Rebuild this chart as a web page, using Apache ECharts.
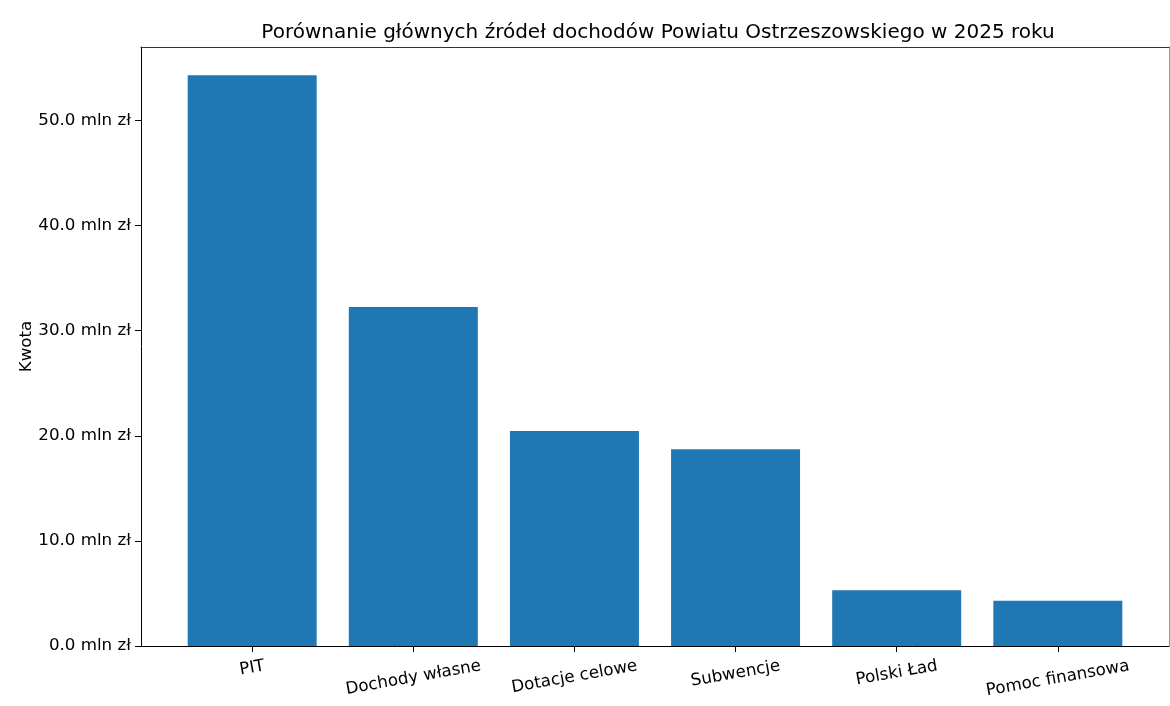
<!DOCTYPE html>
<html lang="pl">
<head>
    <meta charset="UTF-8">
    <title>Dochody Powiatu Ostrzeszowskiego 2025</title>
    <style>
      html, body { margin: 0; padding: 0; background: #fff; }
    </style>
</head>
<body>
    <div id="chart" style="width:1170px; height:706px;"></div>

    <script src="https://cdn.jsdelivr.net/npm/echarts@6/dist/echarts.min.js"></script>
    <script type="text/javascript">
      // dane (mln zł)
      var categories = ['PIT', 'Dochody własne', 'Dotacje celowe', 'Subwencje', 'Polski Ład', 'Pomoc finansowa'];
      var values = [54.30, 32.25, 20.46, 18.72, 5.30, 4.31];
      var yTicks = [0, 10, 20, 30, 40, 50];

      var FONT = 'DejaVu Sans';
      var FS = 16.7;
      var ROT = 10;

      // matplotlib centruje obrocone etykiety - liczymy przesuniecie na podstawie szerokosci tekstu
      var ctx = document.createElement('canvas').getContext('2d');
      ctx.font = FS + 'px "' + FONT + '"';
      var th = ROT * Math.PI / 180;
      var rich = {};
      categories.forEach(function (c, i) {
        var w = ctx.measureText(c).width;
        var bboxH = w * Math.sin(th) + 19 * Math.cos(th);
        var shift = 10.5 + bboxH / 2 - 8;   // przesuniecie srodka w dol (px)
        var P = 2 * Math.cos(th) * shift;
        var R = P * Math.tan(th);
        rich['l' + i] = {
          fontFamily: FONT,
          fontSize: FS,
          color: '#000',
          padding: [P, R, 0, 0]
        };
      });

      var barData = values.map(function (v, i) { return [i, v]; });

      var myChart = echarts.init(document.getElementById('chart'));
      var option = {
        backgroundColor: '#fff',
        animation: false,
        title: {
          text: 'Porównanie głównych źródeł dochodów Powiatu Ostrzeszowskiego w 2025 roku',
          left: 653,
          textAlign: 'center',
          top: 18,
          textStyle: {
            fontFamily: FONT,
            fontSize: 20,
            fontWeight: 'normal',
            color: '#000'
          }
        },
        grid: {
          left: 141,
          right: 1,
          top: 47,
          bottom: 60,
          containLabel: false,
          outerBoundsMode: 'none'
        },
        xAxis: [
          {
            type: 'value',
            min: -0.69,
            max: 5.69,
            position: 'bottom',
            splitLine: { show: false },
            axisLine: { show: true, onZero: false, lineStyle: { color: '#000', width: 1 } },
            axisTick: {
              show: true,
              length: 6,
              customValues: [0, 1, 2, 3, 4, 5],
              lineStyle: { color: '#000' }
            },
            axisLabel: {
              customValues: [0, 1, 2, 3, 4, 5],
              rotate: ROT,
              align: 'center',
              verticalAlign: 'middle',
              margin: 8,
              formatter: function (v) {
                var i = Math.round(v);
                return '{l' + i + '|' + categories[i] + '}';
              },
              rich: rich
            }
          },
          {
            type: 'value',
            min: -0.69,
            max: 5.69,
            position: 'top',
            splitLine: { show: false },
            axisLine: { show: true, onZero: false, lineStyle: { color: '#333', width: 1.2 } },
            axisTick: { show: false },
            axisLabel: { show: false }
          }
        ],
        yAxis: [
          {
            type: 'value',
            min: 0,
            max: 57.0,
            interval: 10,
            name: 'Kwota',
            nameLocation: 'middle',
            nameGap: 106,
            nameMoveOverlap: false,
            nameRotate: 90,
            nameTextStyle: { fontFamily: FONT, fontSize: FS, color: '#000' },
            splitLine: { show: false },
            axisLine: { show: true, onZero: false, lineStyle: { color: '#000', width: 1 } },
            axisTick: {
              show: true,
              length: 6,
              customValues: yTicks,
              lineStyle: { color: '#000' }
            },
            axisLabel: {
              customValues: yTicks,
              margin: 10,
              fontFamily: FONT,
              fontSize: FS,
              color: '#000',
              formatter: function (v) { return v.toFixed(1) + ' mln zł'; }
            }
          },
          {
            type: 'value',
            min: 0,
            max: 57.0,
            position: 'right',
            splitLine: { show: false },
            axisLine: { show: true, onZero: false, lineStyle: { color: '#999', width: 1 } },
            axisTick: { show: false },
            axisLabel: { show: false }
          }
        ],
        series: [
          {
            name: 'Kwota',
            type: 'bar',
            xAxisIndex: 0,
            yAxisIndex: 0,
            barWidth: 129,
            data: barData,
            itemStyle: { color: '#1f77b4' }
          }
        ]
      };
      myChart.setOption(option);
    </script>
</body>
</html>
